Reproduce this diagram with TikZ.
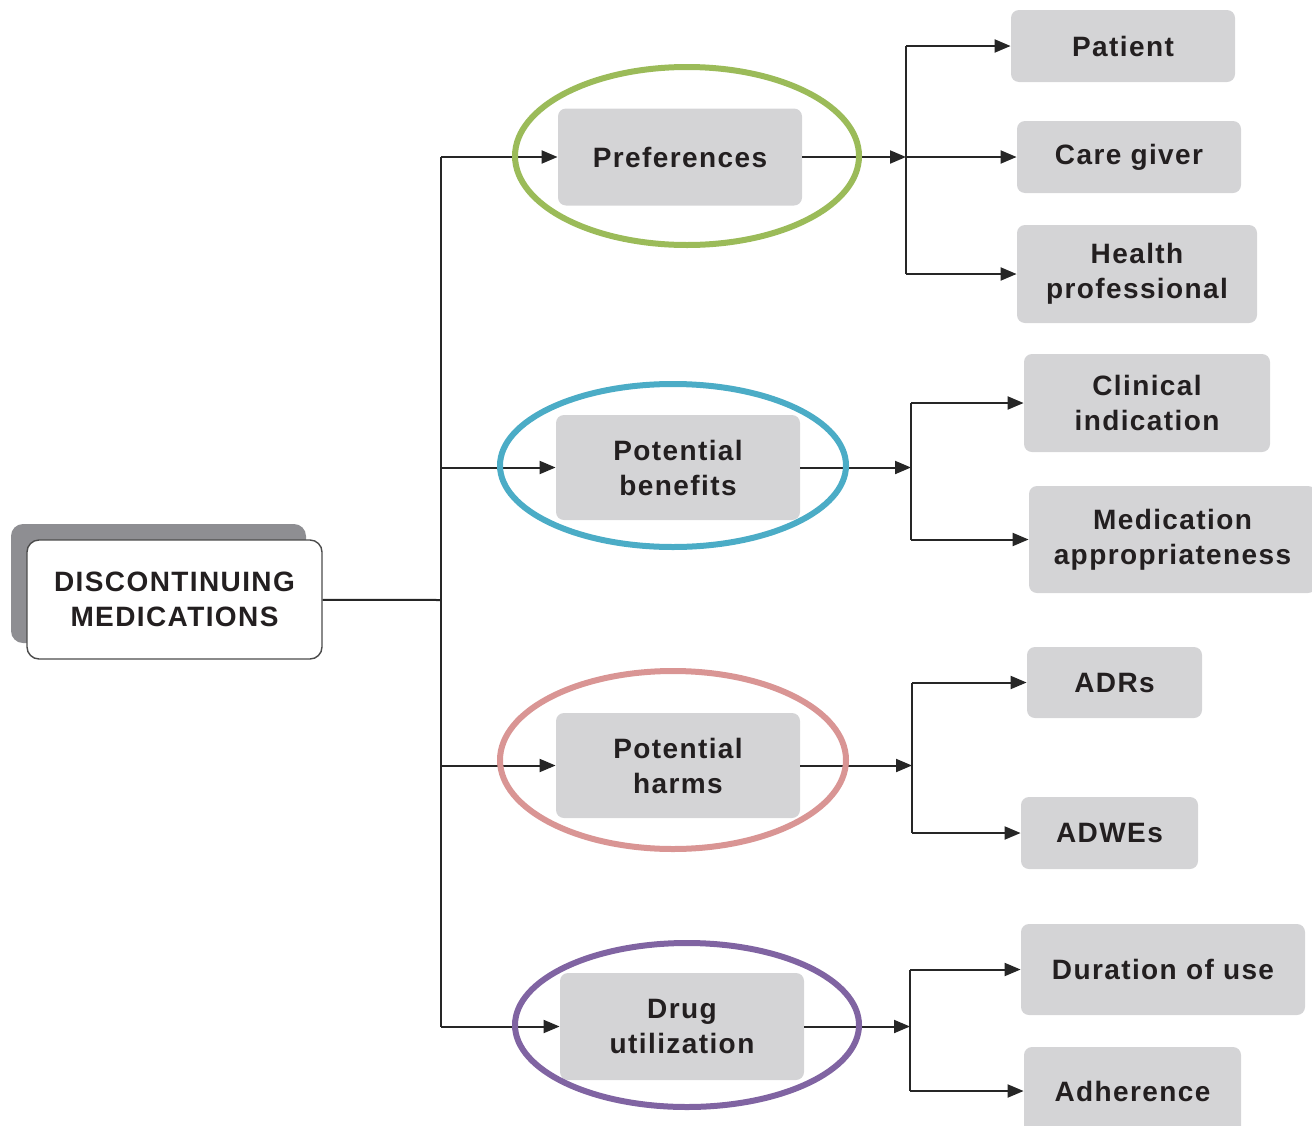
\documentclass[tikz,border=0pt]{standalone}
\usepackage{fontspec}
\setmainfont[LetterSpace=5]{Liberation Sans}
\usetikzlibrary{arrows.meta,shadows}
\definecolor{boxgray}{HTML}{D4D4D6}
\definecolor{shadegray}{HTML}{8E8E92}
\definecolor{inkdark}{HTML}{231F20}
\definecolor{ringgreen}{HTML}{9BBB59}
\definecolor{ringblue}{HTML}{4BACC6}
\definecolor{ringred}{HTML}{D99594}
\definecolor{ringpurple}{HTML}{8064A2}

\begin{document}
\begin{tikzpicture}[x=0.5pt,y=-0.5pt,font=\bfseries\fontsize{14}{17.5}\selectfont,>={Triangle[length=8pt,width=6.5pt]},
 item/.style={fill=boxgray,rounded corners=4pt,align=center,text=inkdark,inner sep=0pt},
 root/.style={item,fill=white,draw=black!70,line width=0.7pt,rounded corners=6pt,
   drop shadow={shadow xshift=-8pt,shadow yshift=8pt,fill=shadegray,opacity=1}},
 wire/.style={line width=1pt,black!85}, flow/.style={wire,->},
 ring/.style={line width=3pt}]
\useasboundingbox (0,0) rectangle (1312,1125);
\node[root,minimum width=147.5pt,minimum height=59.5pt] (discont) at (174.5,599.5) {DISCONTINUING\\MEDICATIONS};
% first level
\node[item,minimum width=122pt,minimum height=48.5pt] (pref) at (680,157) {Preferences};
\node[item,minimum width=122pt,minimum height=52.5pt] (benefit) at (678,467.5) {Potential\\benefits};
\node[item,minimum width=122pt,minimum height=52.5pt] (harm) at (678,765.5) {Potential\\harms};
\node[item,minimum width=122pt,minimum height=53.5pt] (druguse) at (682,1026.5) {Drug\\utilization};
% second level
\node[item,minimum width=112pt,minimum height=36pt] (patient) at (1123,46) {Patient};
\node[item,minimum width=112pt,minimum height=36pt] (carer) at (1129,157) {Care giver};
\node[item,minimum width=120pt,minimum height=49pt] (healthpro) at (1137,274) {Health\\professional};
\node[item,minimum width=123pt,minimum height=49pt] (clinical) at (1147,403) {Clinical\\indication};
\node[item,minimum width=143.5pt,minimum height=53.5pt] (appropriate) at (1172.5,539.5) {Medication\\appropriateness};
\node[item,minimum width=87.5pt,minimum height=35.5pt] (adrs) at (1114.5,682.5) {ADRs};
\node[item,minimum width=88.5pt,minimum height=36pt] (adwes) at (1109.5,833) {ADWEs};
\node[item,minimum width=142pt,minimum height=45.5pt] (duration) at (1163,969.5) {Duration of use};
\node[item,minimum width=108.5pt,minimum height=44pt] (adherence) at (1132.5,1091) {Adherence};
% junctions
\coordinate (trunk) at (441,600);
\coordinate (jpref) at (906,157);
\coordinate (jbenefit) at (911,467.5);
\coordinate (jharm) at (912,765.5);
\coordinate (jdrug) at (910,1026.5);
\draw[wire] (discont) -- (trunk);
\draw[wire] (trunk|-pref) -- (trunk|-druguse);
\foreach \b in {pref,benefit,harm,druguse}
  \draw[flow] (trunk|-\b) -- (\b);
\foreach \j/\a in {jpref/pref,jbenefit/benefit,jharm/harm,jdrug/druguse}
  \draw[flow] (\a) -- (\j);
\draw[wire] (jpref|-patient) -- (jpref|-healthpro);
\draw[wire] (jbenefit|-clinical) -- (jbenefit|-appropriate);
\draw[wire] (jharm|-adrs) -- (jharm|-adwes);
\draw[wire] (jdrug|-duration) -- (jdrug|-adherence);
\foreach \j/\b in {jpref/patient,jpref/carer,jpref/healthpro,jbenefit/clinical,jbenefit/appropriate,jharm/adrs,jharm/adwes,jdrug/duration,jdrug/adherence}
  \draw[flow] (\j|-\b) -- (\b);
% rings
\draw[ring,ringgreen] (687,156) ellipse [x radius=172,y radius=89];
\draw[ring,ringblue] (673,465.5) ellipse [x radius=173,y radius=81.5];
\draw[ring,ringred] (673,760) ellipse [x radius=173,y radius=89];
\draw[ring,ringpurple] (687,1025) ellipse [x radius=172,y radius=82];
\end{tikzpicture}
\end{document}
